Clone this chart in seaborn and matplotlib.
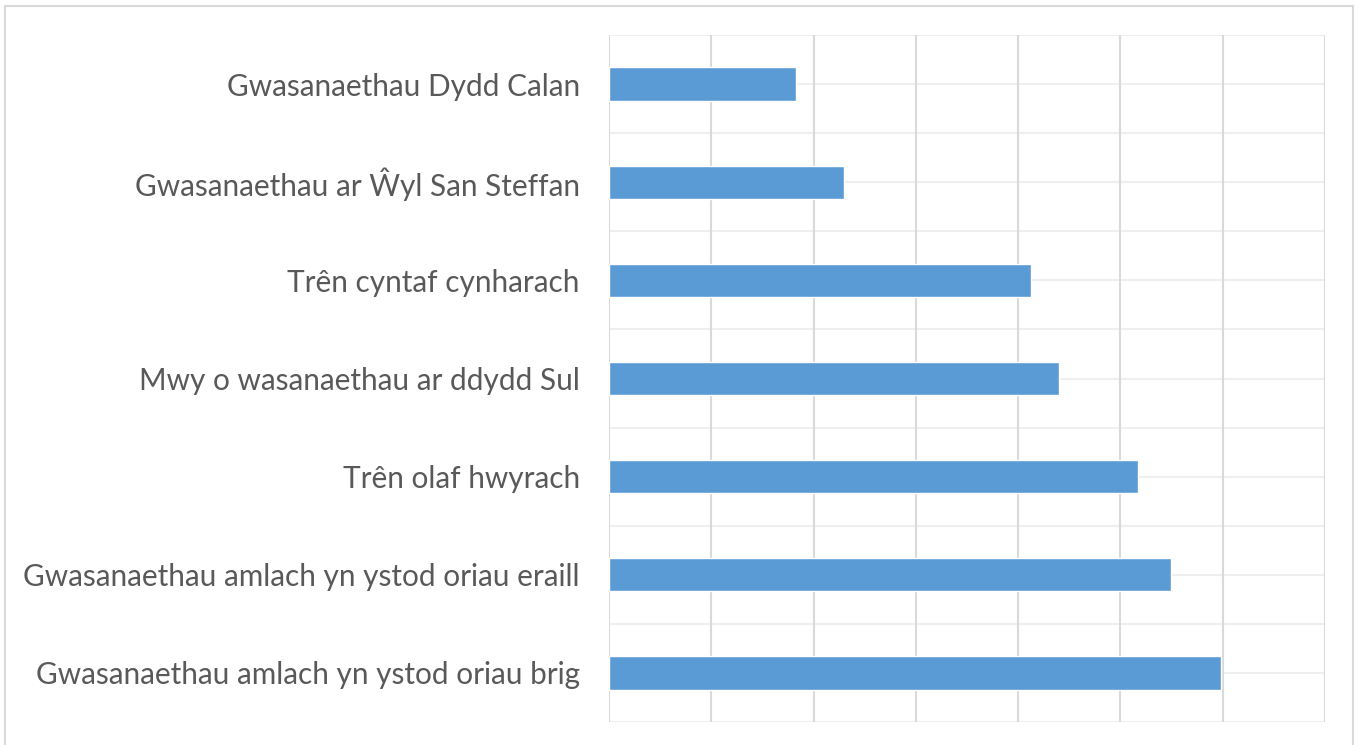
import matplotlib
matplotlib.use("Agg")
import matplotlib.pyplot as plt
import seaborn as sns
import pandas as pd
from matplotlib.patches import Rectangle

categories = [
    "Gwasanaethau Dydd Calan",
    "Gwasanaethau ar Ŵyl San Steffan",
    "Trên cyntaf cynharach",
    "Mwy o wasanaethau ar ddydd Sul",
    "Trên olaf hwyrach",
    "Gwasanaethau amlach yn ystod oriau eraill",
    "Gwasanaethau amlach yn ystod oriau brig",
]
values = [18.3, 23.0, 41.3, 44.0, 51.7, 54.9, 59.8]
x_ticks = [0, 10, 20, 30, 40, 50, 60, 70]

df = pd.DataFrame({"cat": categories, "val": values})

sns.set_theme(style="white")
plt.rcParams["font.family"] = ["Lato", "DejaVu Sans"]

fig = plt.figure(figsize=(13.55, 7.45), dpi=100)
ax = fig.add_axes([609/1355, 1 - 722/745, (1325-609)/1355, (722-35)/745])

sns.barplot(data=df, x="val", y="cat", orient="h", color="#5B9BD5",
            saturation=1, width=0.34, ax=ax, zorder=3)

ax.set_xlim(x_ticks[0], x_ticks[-1])
ax.set_ylim(len(categories) - 0.5, -0.5)
ax.set_xticks(x_ticks)
ax.set_xticklabels([])
for x in x_ticks:
    ax.axvline(x, color="#d9d9d9", lw=1.5, zorder=1)
for i in range(len(categories) * 2 + 1):
    ax.axhline(-0.5 + i * 0.5, color="#efefef", lw=1.5, zorder=0.5)

for s in ax.spines.values():
    s.set_visible(False)
ax.tick_params(axis="y", length=0, pad=21, labelsize=21.4, labelcolor="#595959")
ax.tick_params(axis="x", length=0)
ax.set_xlabel("")
ax.set_ylabel("")

fig.patches.append(Rectangle((5/1355, -0.1), (1353-5)/1355, 1.1 - 6.5/745,
                             transform=fig.transFigure, fill=False,
                             edgecolor="#d9d9d9", lw=1.5))

fig.savefig("out.png", dpi=100)
